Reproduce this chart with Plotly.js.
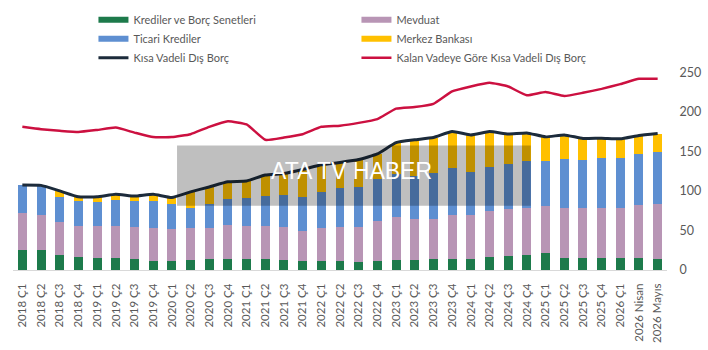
<!DOCTYPE html>
<html>
<head>
<meta charset="utf-8">
<script src="https://cdn.plot.ly/plotly-3.0.1.min.js"></script>
<style>html,body{margin:0;padding:0;background:#fff;}#chart{width:708px;height:350px;}</style>
</head>
<body>
<div id="chart"></div>
<script>
const categories = ["2018 Ç1","2018 Ç2","2018 Ç3","2018 Ç4","2019 Ç1","2019 Ç2","2019 Ç3","2019 Ç4","2020 Ç1","2020 Ç2","2020 Ç3","2020 Ç4","2021 Ç1","2021 Ç2","2021 Ç3","2021 Ç4","2022 Ç1","2022 Ç2","2022 Ç3","2022 Ç4","2023 Ç1","2023 Ç2","2023 Ç3","2023 Ç4","2024 Ç1","2024 Ç2","2024 Ç3","2024 Ç4","2025 Ç1","2025 Ç2","2025 Ç3","2025 Ç4","2026 Ç1","2026 Nisan","2026 Mayıs"];

const krediler = [25.8,25,19.6,16.7,15.4,15.4,14.2,11.7,10.8,12.5,13.3,13.8,13.3,13.8,12.5,10.8,10.8,10.8,10,11.3,12.5,12.5,13.3,13.3,13.3,16.7,18,19.6,21.7,15.4,15,15.4,15,15,14.2];
const mevduat = [45.9,44,40.8,39.3,40.6,40.6,40.8,41.6,41.2,40.8,40,43,42.7,42.3,42.5,38,42.5,44.2,45,50.8,54.2,52.1,51.3,56.7,56.7,58.3,58.7,58.4,59.6,63.6,63,63.6,63,66.7,69.8];
const ticari = [35.3,38,32.1,30.7,30,33,32.5,33.4,32,25.7,30.7,32.9,34.4,37.8,40,43.8,45.5,48.3,50.4,52.6,54.1,54.2,58.4,59,53.8,55,57.3,60.3,57,61,61,62.7,63.7,65,65];
const merkez = [0,0,7.5,5.8,6.5,6.8,6,9.1,7.7,19.8,21,21.9,22.1,26.3,27,34.5,34.3,32.7,34.2,32.1,40.2,45.9,44.5,46,47,45,38,35,30,30.8,27.3,25,24.1,23.3,23.5];
const kisaVadeli = [107.5,107,100,92.5,92.5,95.8,93.5,95.8,91.7,98.8,105,111.5,112.5,120,122,127,133,136,139.6,146.7,161,164.6,167.5,175,170.8,175,172,173.3,168.3,170.8,166.3,166.7,165.8,170,172.5];
const kalanVade = [181,178,176,174.5,177,180,173.7,168,168,171.7,181,188,184,164.6,167.5,171.6,181,182.5,186,190.8,204,206,210,225.8,232,236.7,232,220.8,225,220,224,229,235,241.7,241.7];

const yTicks = [0,50,100,150,200,250];

const C = {
  green: "#1d7a4b",
  mauve: "#b895b5",
  blue: "#5e8fd1",
  yellow: "#ffc000",
  navy: "#1c2b3b",
  red: "#cc1040"
};

function bar(name, vals, color) {
  return {type: "bar", name: name, x: categories, y: vals, marker: {color: color, line: {width: 0}},
          showlegend: false, hoverinfo: "y"};
}
function legendBox(name, color, rank) {
  return {type: "scatter", mode: "lines", name: name, x: [null], y: [null],
          line: {color: color, width: 6}, legendrank: rank, hoverinfo: "skip"};
}

const traces = [
  bar("Krediler ve Borç Senetleri", krediler, C.green),
  bar("Mevduat", mevduat, C.mauve),
  bar("Ticari Krediler", ticari, C.blue),
  bar("Merkez Bankası", merkez, C.yellow),
  legendBox("Krediler ve Borç Senetleri", C.green, 1),
  legendBox("Mevduat", C.mauve, 2),
  legendBox("Ticari Krediler", C.blue, 3),
  legendBox("Merkez Bankası", C.yellow, 4),
  {type: "scatter", mode: "lines", name: "Kısa Vadeli Dış Borç", x: categories, y: kisaVadeli,
   line: {color: C.navy, width: 3, shape: "spline", smoothing: 0.4}, legendrank: 5},
  {type: "scatter", mode: "lines", name: "Kalan Vadeye Göre Kısa Vadeli Dış Borç", x: categories, y: kalanVade,
   line: {color: C.red, width: 2.5, shape: "spline", smoothing: 0.4}, legendrank: 6}
];

const layout = {
  width: 708, height: 350,
  margin: {l: 13, r: 41, t: 70, b: 80, pad: 0},
  paper_bgcolor: "#fff", plot_bgcolor: "#fff",
  barmode: "stack", bargap: 0.52,
  font: {family: "Lato, 'Open Sans', sans-serif", color: "#595959", size: 11},
  showlegend: true,
  legend: {
    orientation: "h", xref: "container", yref: "container", traceorder: "normal",
    x: 0.132, y: 0.985, xanchor: "left", yanchor: "top",
    entrywidth: 218, entrywidthmode: "pixels",
    font: {family: "Lato, sans-serif", size: 11, color: "#595959"},
    bgcolor: "rgba(0,0,0,0)", itemclick: false, tracegroupgap: 0
  },
  xaxis: {
    type: "category", tickangle: -90, showgrid: false, zeroline: false,
    showline: true, linecolor: "#d9d9d9", linewidth: 1,
    ticks: "outside", ticklen: 8, tickcolor: "rgba(0,0,0,0)",
    tickfont: {family: "Lato, sans-serif", size: 11.5, color: "#595959"},
    range: [-0.5, categories.length - 0.5], fixedrange: true
  },
  yaxis: {
    side: "right", range: [0, 250], tickvals: yTicks, showgrid: false, zeroline: false,
    showline: false, ticks: "outside", ticklen: 9, tickcolor: "rgba(0,0,0,0)",
    tickfont: {family: "Lato, sans-serif", size: 12.5, color: "#595959"}, fixedrange: true
  },
  shapes: [{
    type: "rect", xref: "paper", yref: "paper", x0: 0.2508, x1: 0.7917, y0: 0.325, y1: 0.63,
    fillcolor: "rgba(0,0,0,0.25)", line: {width: 0}, layer: "above"
  }],
  annotations: [{
    text: "ATA TV HABER", xref: "paper", yref: "paper", x: 0.517, y: 0.5,
    xanchor: "center", yanchor: "middle", showarrow: false,
    font: {family: "'Liberation Sans', Arial, sans-serif", size: 23, color: "#ffffff"}
  }]
};

Plotly.newPlot("chart", traces, layout, {displayModeBar: false, staticPlot: true});
</script>
</body>
</html>
